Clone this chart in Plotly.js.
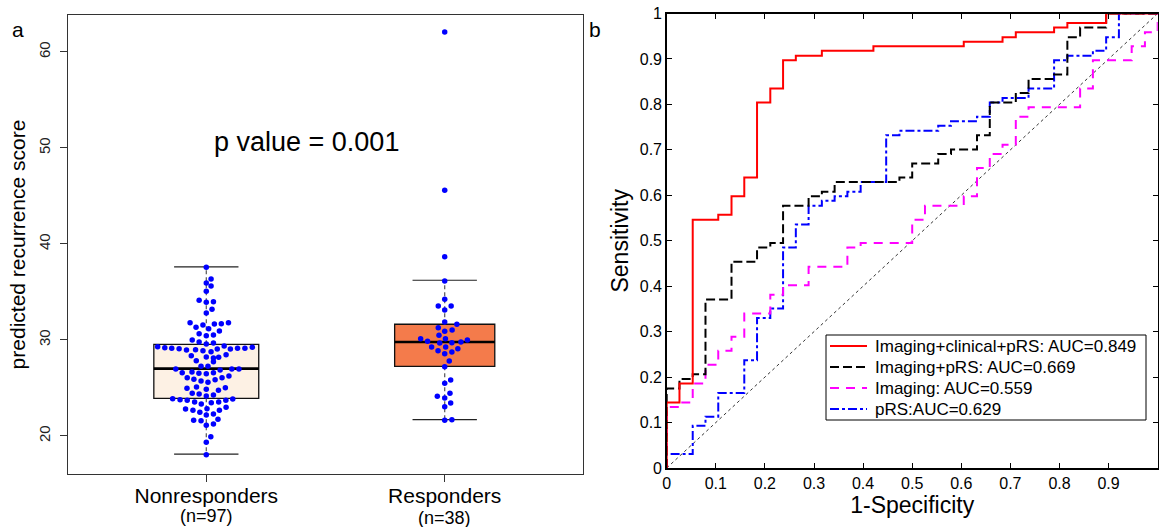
<!DOCTYPE html>
<html>
<head>
<meta charset="utf-8">
<script src="https://cdn.plot.ly/plotly-3.0.1.min.js"></script>
<style>html,body{margin:0;padding:0;background:#fff;}#chart{width:1159px;height:527px;}</style>
</head>
<body>
<div id="chart"></div>
<script>
// ---------- Panel a: predicted recurrence score ----------
const groups = ["Nonresponders", "Responders"];
const groupN = [97, 38];
const groupPos = [1, 2];
const q1 = [23.92, 27.26];
const median = [27.02, 29.79];
const q3 = [29.55, 31.64];
const lowerWhisker = [18.10, 21.70];
const upperWhisker = [37.62, 36.22];
const boxFill = ["#FDF1E4", "#F47B4B"];

// Nonresponders scores and beeswarm offsets (x units)
const nonScores = [37.57,36.35,35.94,35.63,35.07,34.14,33.93,33.99,33.20,32.81,
  31.80,31.32,31.56,31.18,31.67,31.70,31.80,30.66,30.45,30.52,30.94,
  30.00,29.79,29.58,29.69,
  29.30,29.20,29.14,29.09,28.96,28.99,28.89,28.78,29.06,29.38,29.06,29.14,29.14,29.24,
  28.36,28.23,28.13,28.20,28.47,27.84,27.74,27.26,27.26,
  26.98,26.98,26.98,26.88,26.59,26.67,26.53,26.49,26.59,26.25,26.07,25.86,
  26.07,25.91,25.73,25.59,24.97,25.10,24.86,24.76,25.03,24.45,24.38,24.17,24.27,
  23.89,23.78,23.72,23.54,23.33,23.47,23.54,23.72,23.85,
  22.81,22.68,22.47,22.84,22.68,22.99,22.19,22.29,21.64,21.59,21.74,21.11,21.25,
  19.93,19.34,18.05];
const nonOffset = [0,0.02,0,0.02,0,-0.03,0,0.03,0.024,0,
  -0.068,-0.043,-0.014,0.01,0.034,0.063,0.093,-0.03,0,0.03,0.055,
  -0.059,-0.03,0,0.03,
  -0.204,-0.174,-0.145,-0.114,-0.083,-0.045,-0.014,0.02,0.046,0.075,0.101,0.131,0.162,0.193,
  -0.063,0,0.03,0.052,0.083,-0.042,0.03,-0.022,0.007,
  -0.128,0.107,0.137,0.058,-0.101,-0.06,-0.031,0,0.03,0.095,0.066,0.037,
  -0.08,-0.052,-0.022,0.007,-0.081,-0.041,0,0.051,0.08,-0.059,-0.03,0,0.03,
  -0.141,-0.11,-0.08,-0.049,-0.021,0.021,0.052,0.082,0.111,
  -0.087,-0.056,-0.027,0.003,0.055,0.083,0,0.03,-0.053,-0.022,0.049,0,0.03,
  0.019,0,0];

// Responders scores and beeswarm offsets
const resScores = [62.08,45.59,38.68,36.15,34.24,33.54,33.54,33.13,31.88,31.64,
  31.28,31.04,30.91,30.49,30.14,29.86,30.14,30.00,29.79,29.69,29.72,
  29.27,29.27,29.09,28.89,28.75,28.57,27.81,27.22,25.83,25.49,24.45,24.14,23.96,
  23.44,23.05,21.64,21.70];
const resOffset = [0,0,0,0,0,-0.027,0.027,0,0,0.051,
  -0.027,0.031,0,-0.024,-0.101,-0.072,0.003,0.095,0.068,-0.021,0.03,
  -0.055,0.004,0.055,-0.028,0.03,0,0.019,0,0.025,0,0.022,-0.031,0,
  0.025,0,0,0.03];

// ---------- Panel b: ROC curves (corner points, step curves) ----------
const rocNames = ["Imaging+clinical+pRS: AUC=0.849", "Imaging+pRS: AUC=0.669",
                  "Imaging: AUC=0.559", "pRS:AUC=0.629"];
const rocColors = ["#FF0000", "#000000", "#FF00FF", "#0000FF"];
const rocDash = ["solid", "9px,4px", "9px,7px", "dashdot"];
const fprClin = [0,0,0.026,0.053,0.105,0.132,0.158,0.184,0.211,0.237,0.263,0.316,0.421,0.605,0.684,0.711,0.789,0.816,0.895,1];
const tprClin = [0,0.144,0.186,0.546,0.557,0.598,0.639,0.804,0.835,0.897,0.907,0.918,0.928,0.938,0.948,0.959,0.969,0.979,1,1];
const fprImgPrs = [0,0,0.026,0.053,0.079,0.132,0.184,0.211,0.237,0.289,0.316,0.342,0.474,0.5,0.553,0.579,0.632,0.658,0.711,0.737,0.789,0.816,0.842,0.895,1];
const tprImgPrs = [0,0.175,0.196,0.206,0.371,0.454,0.485,0.495,0.577,0.598,0.608,0.629,0.639,0.670,0.691,0.701,0.732,0.804,0.825,0.856,0.866,0.948,0.969,1,1];
const fprImg = [0,0,0.026,0.053,0.079,0.105,0.132,0.158,0.211,0.237,0.289,0.368,0.395,0.5,0.526,0.605,0.632,0.658,0.684,0.711,0.737,0.842,0.868,0.947,0.974,1];
const tprImg = [0,0.134,0.144,0.186,0.227,0.258,0.289,0.340,0.381,0.402,0.443,0.485,0.495,0.546,0.577,0.598,0.660,0.691,0.711,0.773,0.794,0.835,0.897,0.928,0.959,1];
const fprPrs = [0,0,0.053,0.079,0.105,0.158,0.184,0.211,0.237,0.263,0.289,0.316,0.342,0.368,0.395,0.447,0.474,0.553,0.579,0.632,0.658,0.684,0.737,0.789,0.816,0.868,0.895,0.921,1];
const tprPrs = [0,0.031,0.093,0.113,0.165,0.237,0.330,0.351,0.485,0.536,0.577,0.588,0.598,0.608,0.629,0.732,0.742,0.753,0.763,0.773,0.804,0.814,0.835,0.897,0.907,0.918,0.948,1,1];
const rocX = [fprClin, fprImgPrs, fprImg, fprPrs];
const rocY = [tprClin, tprImgPrs, tprImg, tprPrs];
const chance = [0, 1];

// ---------- build traces ----------
const traces = [];
const capHalf = 0.135, boxWidth = [0.44, 0.42];

groups.forEach((g, i) => {
  const p = groupPos[i];
  traces.push({type:"scatter", mode:"lines", xaxis:"x", yaxis:"y", showlegend:false, hoverinfo:"skip",
    x:[p,p,null,p,p], y:[q3[i],upperWhisker[i],null,q1[i],lowerWhisker[i]],
    line:{color:"#555", width:1.2, dash:"4px,3px"}});
  traces.push({type:"scatter", mode:"lines", xaxis:"x", yaxis:"y", showlegend:false, hoverinfo:"skip",
    x:[p-capHalf,p+capHalf,null,p-capHalf,p+capHalf],
    y:[upperWhisker[i],upperWhisker[i],null,lowerWhisker[i],lowerWhisker[i]],
    line:{color:"#222", width:1.2}});
  traces.push({type:"box", xaxis:"x", yaxis:"y", showlegend:false, name:g,
    x:[p], q1:[q1[i]], median:[median[i]], q3:[q3[i]],
    lowerfence:[q1[i]], upperfence:[q3[i]], width:boxWidth[i], whiskerwidth:0,
    fillcolor:boxFill[i], line:{color:"#111", width:1.3}, boxpoints:false});
  traces.push({type:"scatter", mode:"lines", xaxis:"x", yaxis:"y", showlegend:false, hoverinfo:"skip",
    x:[p-boxWidth[i]/2, p+boxWidth[i]/2], y:[median[i], median[i]],
    line:{color:"#000", width:2.6}});
});
traces.push({type:"scatter", mode:"markers", xaxis:"x", yaxis:"y", showlegend:false, name:groups[0],
  x:nonScores.map((v,k)=>groupPos[0]+nonOffset[k]), y:nonScores,
  marker:{color:"#0000FF", size:5.5}});
traces.push({type:"scatter", mode:"markers", xaxis:"x", yaxis:"y", showlegend:false, name:groups[1],
  x:resScores.map((v,k)=>groupPos[1]+resOffset[k]), y:resScores,
  marker:{color:"#0000FF", size:5.5}});

// ROC
traces.push({type:"scatter", mode:"lines", xaxis:"x2", yaxis:"y2", showlegend:false, hoverinfo:"skip",
  x:chance, y:chance, line:{color:"#000", width:0.8, dash:"3px,3px"}});
for (let k = 3; k >= 0; k--) {
  traces.push({type:"scatter", mode:"lines", xaxis:"x2", yaxis:"y2", name:rocNames[k], showlegend:false,
    x:rocX[k], y:rocY[k], line:{color:rocColors[k], width:2, shape:"hv", dash:rocDash[k]}});
}

const W = 1159, H = 527;
const font = "Liberation Sans, Arial, Helvetica, sans-serif";
const px = v => v / W, py = v => 1 - v / H;

// legend (drawn as a boxed key, MATLAB style)
const legL = 826, legR = 1146, legT = 335, legB = 420;
const legRows = [346, 367, 388, 409];
const shapes = [{type:"rect", xref:"paper", yref:"paper", x0:px(legL), x1:px(legR), y0:py(legB), y1:py(legT),
  line:{color:"#000", width:1}, fillcolor:"#fff", layer:"above"}];
const annotations = [
  {text:"a", x:px(18), y:py(30), xref:"paper", yref:"paper", xanchor:"center", yanchor:"middle", showarrow:false, font:{size:21}},
  {text:"b", x:px(595), y:py(30), xref:"paper", yref:"paper", xanchor:"center", yanchor:"middle", showarrow:false, font:{size:21}},
  {text:"p value = 0.001", x:px(306), y:py(142), xref:"paper", yref:"paper", xanchor:"center", yanchor:"middle", showarrow:false, font:{size:27}}
];
groups.forEach((g, i) => {
  annotations.push({text:"(n=" + groupN[i] + ")", x:groupPos[i], xref:"x", y:py(516 + 2*i), yref:"paper",
    xanchor:"center", yanchor:"middle", showarrow:false, font:{size:18}});
});
rocNames.forEach((n, k) => {
  shapes.push({type:"line", xref:"paper", yref:"paper", x0:px(830), x1:px(867), y0:py(legRows[k]), y1:py(legRows[k]),
    line:{color:rocColors[k], width:2, dash:rocDash[k]}, layer:"above"});
  annotations.push({text:n, x:px(873), y:py(legRows[k]), xref:"paper", yref:"paper", xanchor:"left", yanchor:"middle",
    showarrow:false, font:{size:17}});
});

const layout = {
  width: W, height: H,
  margin: {l:0, r:0, t:0, b:0},
  paper_bgcolor: "#fff", plot_bgcolor: "rgba(0,0,0,0)",
  font: {family: font, color: "#000"},
  showlegend: false,
  xaxis: {domain:[px(68), px(583)], range:[0.42, 2.58], anchor:"y",
    tickvals: groupPos, ticktext: groups, ticklabelstandoff:-4,
    ticks:"outside", ticklen:7, tickcolor:"#333", tickfont:{size:21},
    showline:true, linecolor:"#333", linewidth:1, mirror:true,
    showgrid:false, zeroline:false},
  yaxis: {domain:[py(474), py(15)], range:[16.04, 63.85], anchor:"x",
    tickvals:[20,30,40,50,60], tickangle:-90, ticklabelstandoff:4,
    ticks:"outside", ticklen:7, tickcolor:"#333", tickfont:{size:15, color:"#222"},
    showline:true, linecolor:"#333", linewidth:1, mirror:true,
    showgrid:false, zeroline:false,
    title:{text:"predicted recurrence score", font:{size:21}, standoff:4}},
  xaxis2: {domain:[px(666.7), px(1157.7)], range:[0,1], anchor:"y2",
    dtick:0.1, tick0:0, ticks:"inside", ticklen:5, tickcolor:"#000",
    tickfont:{size:16}, showline:true, linecolor:"#000", linewidth:1.5, mirror:"ticks",
    showgrid:false, zeroline:false,
    title:{text:"1-Specificity", font:{size:23}, standoff:2}},
  yaxis2: {domain:[py(468), py(13.5)], range:[0,1], anchor:"x2",
    dtick:0.1, tick0:0, ticks:"inside", ticklen:5, tickcolor:"#000",
    tickfont:{size:16}, showline:true, linecolor:"#000", linewidth:1.5, mirror:"ticks",
    showgrid:false, zeroline:false,
    title:{text:"Sensitivity", font:{size:23}, standoff:4}},
  shapes: shapes,
  annotations: annotations
};
Plotly.newPlot("chart", traces, layout, {displayModeBar:false, staticPlot:true});
</script>
</body>
</html>
